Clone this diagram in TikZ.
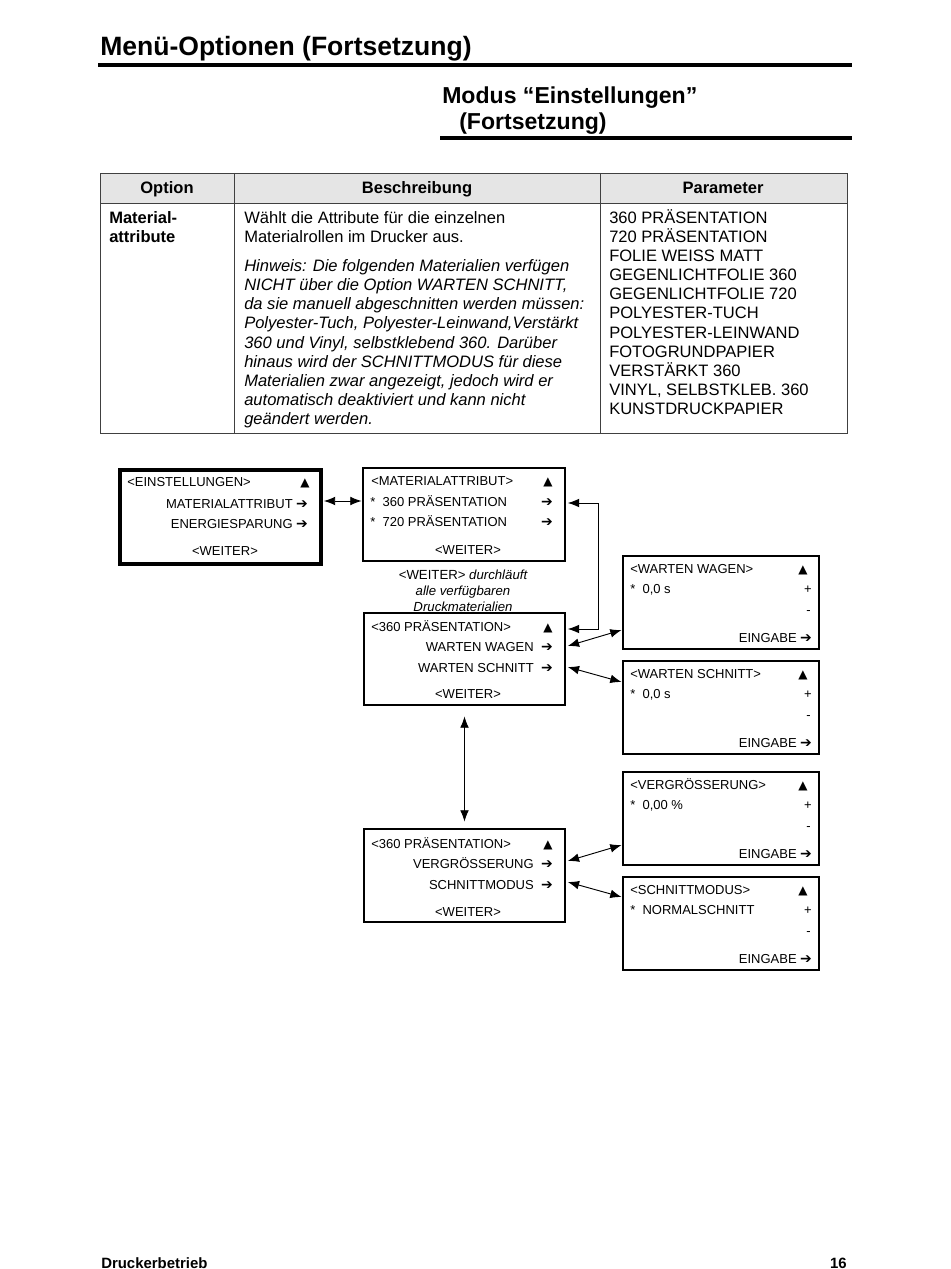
\documentclass[tikz,border=0pt]{standalone}
\usepackage{fontspec}
\setmainfont{Liberation Sans}
\newfontfamily\symf{DejaVu Sans}
\usetikzlibrary{arrows.meta,fit}
\tikzset{
  tx/.style={inner sep=0, anchor=base west, font=\fontsize{12.4}{14}\selectfont},
  txb/.style={tx, font=\bfseries\fontsize{12.4}{14}\selectfont},
  txi/.style={tx, font=\itshape\fontsize{12.4}{14}\selectfont},
  hd/.style={inner sep=0, anchor=base, font=\bfseries\fontsize{12.4}{14}\selectfont},
  dt/.style={inner sep=0, anchor=base west, font=\fontsize{9.75}{11}\selectfont},
  dtr/.style={dt, anchor=base east},
  dtc/.style={dt, anchor=base},
  capt/.style={inner sep=0, anchor=base, font=\itshape\fontsize{9.9}{11}\selectfont},
  tri/.style={inner sep=0, anchor=base, font=\symf\fontsize{9}{11}\selectfont},
  arr/.style={inner sep=0, anchor=base, font=\symf\bfseries\fontsize{10.5}{11}\selectfont},
  box/.style={draw, line width=1.1pt, inner sep=0},
  tbl/.style={draw=black!75, line width=0.7pt},
  rule/.style={line width=3pt},
  dbl/.style={line width=0.7pt, {Latex[length=8.5pt,width=6.5pt]}-{Latex[length=8.5pt,width=6.5pt]}},
}
\begin{document}
\begin{tikzpicture}[x=0.75pt,y=-0.75pt]
\useasboundingbox (0,0) rectangle (950,1269);
\fill[white] (0,0) rectangle (950,1269);

% titles
\node[inner sep=0, anchor=base west, font=\bfseries\fontsize{19.9}{22}\selectfont] (title) at (100,56) {Menü-Optionen (Fortsetzung)};
\coordinate (r1a) at (98,65); \coordinate (r1b) at (852,65);
\draw[rule] (r1a) -- (r1b);
\node[inner sep=0, anchor=base west, font=\bfseries\fontsize{17.3}{20}\selectfont] (sub1) at (442,104) {Modus “Einstellungen”};
\node[inner sep=0, anchor=base west, font=\bfseries\fontsize{17.3}{20}\selectfont] (sub2) at (459,130) {(Fortsetzung)};
\coordinate (r2a) at (440,138); \coordinate (r2b) at (852,138);
\draw[rule] (r2a) -- (r2b);

% table
\fill[black!10] (100,173) rectangle (847,203);
\draw[tbl] (100,173) rectangle (847,433);
\draw[tbl] (100,203) -- (847,203);
\draw[tbl] (234,173) -- (234,433);
\draw[tbl] (600,173) -- (600,433);
\node[hd] (h1) at (167,194) {Option};
\node[hd] (h2) at (417,194) {Beschreibung};
\node[hd] (h3) at (723,194) {Parameter};

\node[txb] (o1) at (109,224) {Material-};
\node[txb] (o2) at (109,243) {attribute};

\node[tx] (d1) at (244,224) {Wählt die Attribute für die einzelnen};
\node[tx] (d2) at (244,243) {Materialrollen im Drucker aus.};
\node[txi] (d3) at (244,272) {Hinweis: Die folgenden Materialien verfügen};
\node[txi] (d4) at (244,291) {NICHT über die Option WARTEN SCHNITT,};
\node[txi] (d5) at (244,310) {da sie manuell abgeschnitten werden müssen:};
\node[txi] (d6) at (244,329) {Polyester-Tuch, Polyester-Leinwand,Verstärkt};
\node[txi] (d7) at (244,348) {360 und Vinyl, selbstklebend 360. Darüber};
\node[txi] (d8) at (244,367) {hinaus wird der SCHNITTMODUS für diese};
\node[txi] (d9) at (244,386) {Materialien zwar angezeigt, jedoch wird er};
\node[txi] (d10) at (244,405) {automatisch deaktiviert und kann nicht};
\node[txi] (d11) at (244,424) {geändert werden.};

\node[tx] (p1) at (609,224) {360 PRÄSENTATION};
\node[tx] (p2) at (609,243) {720 PRÄSENTATION};
\node[tx] (p3) at (609,262) {FOLIE WEISS MATT};
\node[tx] (p4) at (609,281) {GEGENLICHTFOLIE 360};
\node[tx] (p5) at (609,300) {GEGENLICHTFOLIE 720};
\node[tx] (p6) at (609,319) {POLYESTER-TUCH};
\node[tx] (p7) at (609,338) {POLYESTER-LEINWAND};
\node[tx] (p8) at (609,357) {FOTOGRUNDPAPIER};
\node[tx] (p9) at (609,376) {VERSTÄRKT 360};
\node[tx] (p10) at (609,395) {VINYL, SELBSTKLEB. 360};
\node[tx] (p11) at (609,414) {KUNSTDRUCKPAPIER};

% ---------- diagram ----------
% Box A
\node[box, line width=2.3pt, fit={(120,470) (321,564)}] (A) {};
\node[dt] (a1) at (127,486) {<EINSTELLUNGEN>};
\node[tri] (a1t) at (305,486) {▲};
\node[dtr] (a2) at (293,508) {MATERIALATTRIBUT};
\node[arr] (a2a) at (302,508) {➔};
\node[dtr] (a3) at (293,528) {ENERGIESPARUNG};
\node[arr] (a3a) at (302,528) {➔};
\node[dtc] (a4) at (225,555) {<WEITER>};

% Box B
\node[box, fit={(363,468) (565,561)}] (B) {};
\node[dt] (b1) at (371,485) {<MATERIALATTRIBUT>};
\node[tri] (b1t) at (548,485) {▲};
\node[dt] (b2) at (370,506) {*\ \ 360 PRÄSENTATION};
\node[arr] (b2a) at (547,506) {➔};
\node[dt] (b3) at (370,526) {*\ \ 720 PRÄSENTATION};
\node[arr] (b3a) at (547,526) {➔};
\node[dtc] (b4) at (468,554) {<WEITER>};

% caption
\node[capt] (c1) at (463,579) {{\upshape <WEITER>} durchläuft};
\node[capt] (c2) at (463,595) {alle verfügbaren};
\node[capt] (c3) at (463,611) {Druckmaterialien};

% Box C
\node[box, fit={(364,613) (565,705)}] (C) {};
\node[dt] (k1) at (371,631) {<360 PRÄSENTATION>};
\node[tri] (k1t) at (548,631) {▲};
\node[dtr] (k2) at (534,651) {WARTEN WAGEN};
\node[arr] (k2a) at (547,651) {➔};
\node[dtr] (k3) at (534,672) {WARTEN SCHNITT};
\node[arr] (k3a) at (547,672) {➔};
\node[dtc] (k4) at (468,698) {<WEITER>};

% Box H
\node[box, fit={(364,829) (565,922)}] (H) {};
\node[dt] (h4) at (371,848) {<360 PRÄSENTATION>};
\node[tri] (h4t) at (548,848) {▲};
\node[dtr] (h5) at (534,868) {VERGRÖSSERUNG};
\node[arr] (h5a) at (547,868) {➔};
\node[dtr] (h6) at (534,889) {SCHNITTMODUS};
\node[arr] (h6a) at (547,889) {➔};
\node[dtc] (h7) at (468,916) {<WEITER>};

% Value boxes
\node[box, fit={(623,556) (819,649)}] (D) {};
\node[dt] (e1) at (630,573) {<WARTEN WAGEN>};
\node[tri] (e1t) at (803,573) {▲};
\node[dt] (e2) at (630,593) {*\ \ 0,0 s};
\node[dtr] (e2p) at (812,593) {+};
\node[dtr] (e3) at (811,614) {-};
\node[dtr] (e4) at (797,642) {EINGABE};
\node[arr] (e4a) at (806,642) {➔};

\node[box, fit={(623,661) (819,754)}] (E) {};
\node[dt] (f1) at (630,678) {<WARTEN SCHNITT>};
\node[tri] (f1t) at (803,678) {▲};
\node[dt] (f2) at (630,698) {*\ \ 0,0 s};
\node[dtr] (f2p) at (812,698) {+};
\node[dtr] (f3) at (811,719) {-};
\node[dtr] (f4) at (797,747) {EINGABE};
\node[arr] (f4a) at (806,747) {➔};

\node[box, fit={(623,772) (819,865)}] (F) {};
\node[dt] (g1) at (630,789) {<VERGRÖSSERUNG>};
\node[tri] (g1t) at (803,789) {▲};
\node[dt] (g2) at (630,809) {*\ \ 0,00 \%};
\node[dtr] (g2p) at (812,809) {+};
\node[dtr] (g3) at (811,830) {-};
\node[dtr] (g4) at (797,858) {EINGABE};
\node[arr] (g4a) at (806,858) {➔};

\node[box, fit={(623,877) (819,970)}] (G) {};
\node[dt] (m1) at (630,894) {<SCHNITTMODUS>};
\node[tri] (m1t) at (803,894) {▲};
\node[dt] (m2) at (630,914) {*\ \ NORMALSCHNITT};
\node[dtr] (m2p) at (812,914) {+};
\node[dtr] (m3) at (811,935) {-};
\node[dtr] (m4) at (797,963) {EINGABE};
\node[arr] (m4a) at (806,963) {➔};

% connectors
\draw[dbl] ([xshift=1pt]A.east |- 0,501) -- ([xshift=-0.5pt]B.west |- 0,501);
\coordinate (lpT) at (598,503);
\coordinate (lpB) at (598,629);
\draw[dbl] ([xshift=1.5pt]B.east |- lpT) -- (lpT) -- (lpB) -- ([xshift=1.5pt]C.east |- lpB);
\draw[dbl] ([xshift=1.5pt]C.east |- 0,646) -- ([xshift=-0.5pt]D.west |- 0,630);
\draw[dbl] ([xshift=1.5pt]C.east |- 0,667) -- ([xshift=-0.5pt]E.west |- 0,682);
\draw[dbl] ([yshift=-8pt]C.south) -- ([yshift=5pt]H.north);
\draw[dbl] ([xshift=1.5pt]H.east |- 0,861) -- ([xshift=-0.5pt]F.west |- 0,845);
\draw[dbl] ([xshift=1.5pt]H.east |- 0,882) -- ([xshift=-0.5pt]G.west |- 0,897);

% footer
\node[inner sep=0, anchor=base west, font=\bfseries\fontsize{11.2}{13}\selectfont] (ft1) at (101,1268) {Druckerbetrieb};
\node[inner sep=0, anchor=base east, font=\bfseries\fontsize{11.2}{13}\selectfont] (ft2) at (847,1268) {16};
\end{tikzpicture}
\end{document}
